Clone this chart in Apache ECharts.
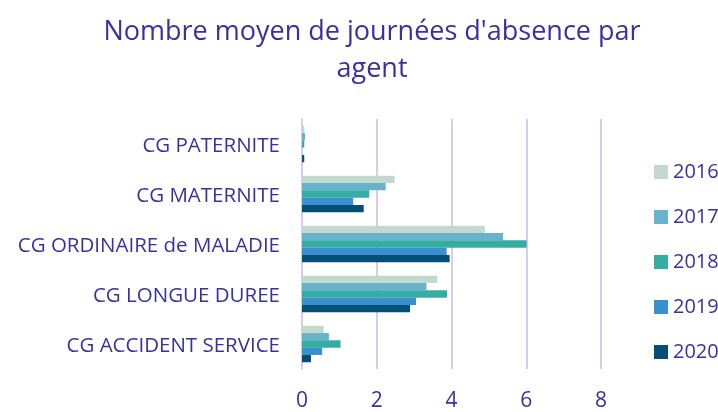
<!DOCTYPE html>
<html><head><meta charset="utf-8">
<script src="https://cdn.jsdelivr.net/npm/echarts@6/dist/echarts.min.js"></script>
<style>html,body{margin:0;padding:0;background:#fff}#c{width:718px;height:412px}</style>
</head><body><div id="c"></div>
<script>
const categories = ['CG PATERNITE','CG MATERNITE','CG ORDINAIRE de MALADIE','CG LONGUE DUREE','CG ACCIDENT SERVICE'];
const years = ['2016','2017','2018','2019','2020'];
const v2016 = [0.06, 2.48, 4.89, 3.62, 0.58];
const v2017 = [0.08, 2.24, 5.38, 3.33, 0.72];
const v2018 = [0.06, 1.80, 6.01, 3.88, 1.03];
const v2019 = [0.00, 1.37, 3.87, 3.05, 0.54];
const v2020 = [0.06, 1.65, 3.95, 2.89, 0.24];
const xTicks = [0, 2, 4, 6, 8];
const colors = ['#c2dace','#68b3cb','#36ada3','#3a90ce','#034f75'];
const values = [v2016, v2017, v2018, v2019, v2020];
const txt = '#3832a0';
const font = 'Open Sans';
const chart = echarts.init(document.getElementById('c'));
chart.setOption({
  animation: false,
  title: {
    text: "Nombre moyen de journées d'absence par\nagent",
    left: 367, top: 9, textAlign: 'center',
    textStyle: {color: txt, fontSize: 27, fontWeight: 'normal', fontFamily: font, lineHeight: 37}
  },
  legend: {
    orient: 'vertical', left: 649, top: 156,
    itemWidth: 14, itemHeight: 14, itemGap: 23,
    icon: 'rect',
    textStyle: {color: txt, fontSize: 20, fontFamily: font, lineHeight: 22},
    data: years
  },
  grid: {left: 302, right: 117, top: 119, bottom: 39, containLabel: false},
  xAxis: {
    type: 'value', min: xTicks[0], max: xTicks[xTicks.length-1], interval: 2,
    axisLine: {show: false}, axisTick: {show: false},
    splitLine: {lineStyle: {color: '#d4cdf0', width: 2}},
    axisLabel: {color: txt, fontSize: 21, fontFamily: font, margin: 22}
  },
  yAxis: {
    type: 'category', data: categories, inverse: true,
    axisLine: {show: true, lineStyle: {color: '#d4cdf0', width: 2}},
    axisTick: {show: false},
    axisLabel: {
      margin: 22,
      formatter: v => '{a|' + v + '}',
      rich: {a: {color: txt, fontSize: 20.5, fontFamily: font, padding: [5, 0, 0, 0]}}
    }
  },
  series: years.map((y, i) => ({
    name: y, type: 'bar', data: values[i],
    itemStyle: {color: colors[i]},
    barGap: '0%', barCategoryGap: '27%'
  }))
});
</script></body></html>
